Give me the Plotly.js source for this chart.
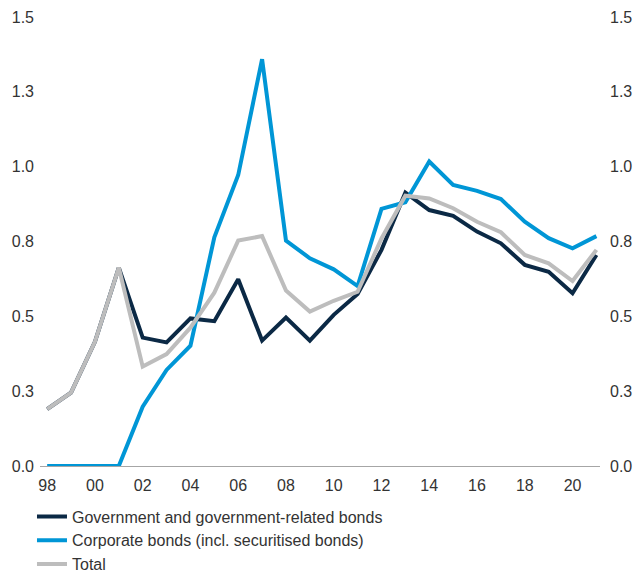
<!DOCTYPE html>
<html>
<head>
<meta charset="utf-8">
<script src="https://cdn.plot.ly/plotly-3.0.1.min.js"></script>
<style>html,body{margin:0;padding:0;background:#fff;}#chart{width:636px;height:573px;}</style>
</head>
<body>
<div id="chart"></div>
<script>
const years = [1998,1999,2000,2001,2002,2003,2004,2005,2006,2007,2008,2009,2010,2011,2012,2013,2014,2015,2016,2017,2018,2019,2020,2021];
const government = [0.19,0.245,0.415,0.663,0.429,0.413,0.493,0.484,0.624,0.419,0.496,0.419,0.505,0.575,0.722,0.913,0.855,0.836,0.783,0.744,0.672,0.649,0.577,0.705];
const corporate = [0,0,0,0,0.198,0.321,0.402,0.764,0.972,1.359,0.753,0.694,0.657,0.601,0.859,0.881,1.017,0.939,0.919,0.892,0.816,0.761,0.727,0.768];
const total = [0.19,0.245,0.415,0.663,0.332,0.374,0.462,0.579,0.753,0.768,0.586,0.516,0.552,0.582,0.76,0.903,0.894,0.861,0.816,0.781,0.705,0.677,0.618,0.722];
const seriesNames = ["Government and government-related bonds","Corporate bonds (incl. securitised bonds)","Total"];
const xTickVals = [1998,2000,2002,2004,2006,2008,2010,2012,2014,2016,2018,2020];
const xTickText = ["98","00","02","04","06","08","10","12","14","16","18","20"];
const yTickVals = [0,0.25,0.5,0.75,1.0,1.25,1.5];
const yTickText = ["0.0","0.3","0.5","0.8","1.0","1.3","1.5"];

const colors = ["#0b2945","#0096d6","#bdbdbd"];
const fontFam = "Liberation Sans, Arial, sans-serif";
const fs = 16;

const traces = [
  {x: years, y: government, name: seriesNames[0], type: "scatter", mode: "lines", line: {color: colors[0], width: 4}},
  {x: years, y: corporate, name: seriesNames[1], type: "scatter", mode: "lines", line: {color: colors[1], width: 4}},
  {x: years, y: total, name: seriesNames[2], type: "scatter", mode: "lines", line: {color: colors[2], width: 4}},
  {x: [], y: [], yaxis: "y2", showlegend: false, hoverinfo: "skip", type: "scatter", mode: "lines"}
];

const yaxisBase = {
  range: [0, 1.5], tickvals: yTickVals, ticktext: yTickText,
  showgrid: false, zeroline: false, showline: false, ticks: "", automargin: false,
  tickfont: {family: fontFam, size: fs, color: "#333"}, fixedrange: true
};

const layout = {
  width: 636, height: 573,
  margin: {l: 40, r: 36, t: 17, b: 107, autoexpand: false},
  paper_bgcolor: "#fff", plot_bgcolor: "#fff",
  font: {family: fontFam, size: fs, color: "#333"},
  xaxis: {
    range: [1997.7, 2021.15], tickvals: xTickVals, ticktext: xTickText,
    showgrid: false, zeroline: false, showline: true, linecolor: "#a6a6a6", linewidth: 1,
    ticks: "", ticklabelstandoff: 5, automargin: false, tickfont: {family: fontFam, size: fs, color: "#333"}
  },
  yaxis: Object.assign({}, yaxisBase, {side: "left", ticklabelstandoff: 5}),
  yaxis2: Object.assign({}, yaxisBase, {side: "right", overlaying: "y", matches: "y", ticklabelstandoff: 9}),
  showlegend: true,
  legend: {
    orientation: "v", xref: "container", yref: "container",
    x: 0.0503, y: 0.1283, xanchor: "left", yanchor: "top",
    traceorder: "normal", itemwidth: 30, tracegroupgap: 0,
    font: {family: fontFam, size: fs, color: "#333"}, bgcolor: "rgba(0,0,0,0)"
  }
};

Plotly.newPlot("chart", traces, layout, {staticPlot: true, displayModeBar: false});
</script>
</body>
</html>
